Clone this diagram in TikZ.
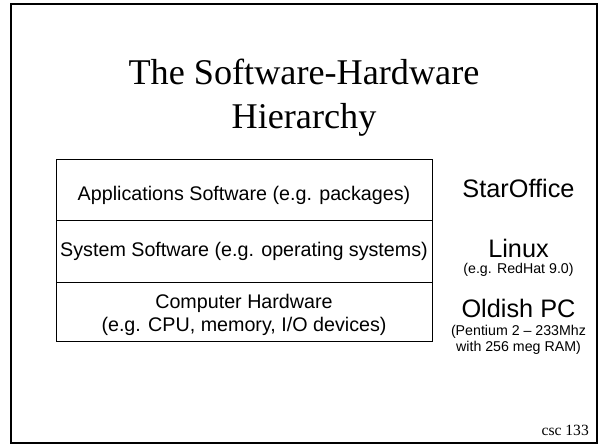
\documentclass[tikz,border=0pt]{standalone}
\usepackage{fontspec}
\setmainfont{Liberation Serif}
\setsansfont{Liberation Sans}
\begin{document}
\begin{tikzpicture}[x=1pt,y=-1pt,
  slide/.style={draw, line width=1.8pt, minimum width=586pt, minimum height=439pt, inner sep=0pt},
  layer/.style={draw, line width=1pt, minimum width=376pt, inner sep=0pt, anchor=north west},
  title/.style={font=\fontsize{36.2}{43}\selectfont, inner sep=0pt, anchor=base},
  rowtext/.style={font=\sffamily\fontsize{19.7}{23}\selectfont, inner sep=0pt, anchor=base},
  bigtag/.style={font=\sffamily\fontsize{25.3}{30}\selectfont, inner sep=0pt, anchor=base},
  smalltag/.style={font=\sffamily\fontsize{14.2}{17}\selectfont, inner sep=0pt, anchor=base},
  pageno/.style={font=\fontsize{15.6}{18}\selectfont, inner sep=0pt, anchor=base east}]
\useasboundingbox (0,0) rectangle (600,445);

% slide frame
\node[slide] (frame) at (304,223.5) {};

% heading
\node[title] (title1) at (304,84.5) {The Software-Hardware};
\node[title] (title2) at (304,128) {Hierarchy};

% the three layers of the stack
\node[layer, minimum height=61pt] (apps) at (56,159) {};
\node[layer, minimum height=62pt] (sys)  at (56,220) {};
\node[layer, minimum height=59pt] (hw)   at (56,282) {};

\node[rowtext] (appsText) at (244,200) {Applications Software (e.g. packages)};
\node[rowtext] (sysText)  at (244,256) {System Software (e.g. operating systems)};
\node[rowtext] (hwText)   at (244,308.3) {Computer Hardware};
\node[rowtext] (hwNote)   at (244,331) {(e.g. CPU, memory, I/O devices)};

% concrete examples beside each layer
\node[bigtag]   (office)  at (518.5,197.3) {StarOffice};
\node[bigtag]   (linux)   at (518.5,257.6) {Linux};
\node[smalltag] (redhat)  at (518.5,273.4) {(e.g. RedHat 9.0)};
\node[bigtag]   (pc)      at (518.5,317.3) {Oldish PC};
\node[smalltag] (pcspec1) at (518.5,335) {(Pentium 2 – 233Mhz};
\node[smalltag] (pcspec2) at (518.5,351.7) {with 256 meg RAM)};

% page number
\node[pageno] (page) at (589,435) {csc 133};
\end{tikzpicture}
\end{document}
